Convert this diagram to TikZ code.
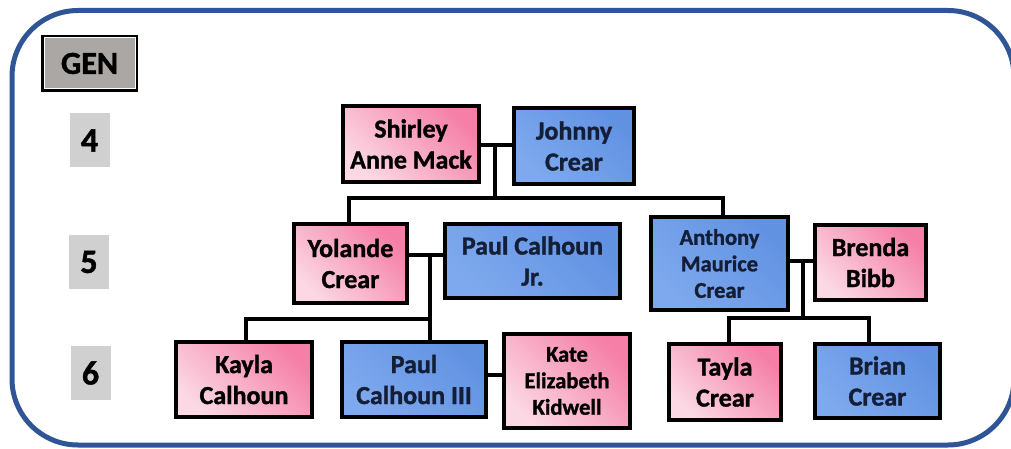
\documentclass[tikz,border=0pt]{standalone}
\usepackage{fontspec}
\setmainfont{Carlito}[BoldFeatures={FakeBold=1.3}]
\definecolor{frameblue}{HTML}{2F5597}
\definecolor{pinkL}{HTML}{FBD8E4}
\definecolor{pinkD}{HTML}{F57FA7}
\definecolor{blueL}{HTML}{7EA9EE}
\definecolor{blueD}{HTML}{6192E2}
\definecolor{navytext}{HTML}{141E36}
\definecolor{gengray}{HTML}{ABA7A5}
\definecolor{numgray}{HTML}{D0D0D0}
\tikzset{
  person/.style={draw=black, line width=4pt, inner sep=0pt, align=center,
    font=\bfseries\fontsize{26}{31}\selectfont},
  female/.style={person, left color=pinkL, right color=pinkD, shading angle=135, text=black},
  male/.style={person, left color=blueL, right color=blueD, shading angle=135, text=navytext},
  smalltext/.style={font=\bfseries\fontsize{22.5}{26.5}\selectfont},
  link/.style={draw=black, line width=4pt},
  genbox/.style={draw=black, line width=3pt, fill=gengray, inner sep=0pt,
    minimum width=94pt, minimum height=54pt, font=\bfseries\fontsize{32}{36}\selectfont},
  numbox/.style={fill=numgray, inner sep=0pt, minimum width=40pt, minimum height=54pt,
    font=\bfseries\fontsize{34}{38}\selectfont},
  frame/.style={draw=frameblue, line width=5pt, rounded corners=66pt}
}
\begin{document}
\begin{tikzpicture}[x=1pt,y=-1pt]
\useasboundingbox (0,0) rectangle (1011,449);
\clip (0,0) rectangle (1011,449);
\fill[white] (0,0) rectangle (1011,449);
\draw[frame] (12,10.5) rectangle (1014,445);

% generation column
\node[genbox] (gen) at (89.5,63.5) {GEN};
\draw[white, line width=1pt] ([shift={(3pt,-3pt)}]gen.north west) rectangle ([shift={(-3pt,3pt)}]gen.south east);
\node[numbox] (g4) at (89.5,140.5) {4};
\node[numbox] (g5) at (89,262) {5};
\node[numbox] (g6) at (90.5,373) {6};

% generation 4
\node[female, minimum width=136pt, minimum height=76pt] (shirley) at (411,144) {Shirley\\Anne Mack};
\node[male, minimum width=120pt, minimum height=76pt] (johnny) at (574,146) {Johnny\\Crear};

% generation 5
\node[female, minimum width=113pt, minimum height=79pt] (yolande) at (350.5,263.5) {Yolande\\Crear};
\node[male, minimum width=175pt, minimum height=74pt] (pauljr) at (532.5,261) {Paul Calhoun\\Jr.};
\node[male, smalltext, minimum width=137pt, minimum height=93pt] (anthony) at (719.5,263.5) {Anthony\\Maurice\\Crear};
\node[female, minimum width=111pt, minimum height=75pt] (brenda) at (870.5,262.5) {Brenda\\Bibb};

% generation 6
\node[female, minimum width=136pt, minimum height=75pt] (kayla) at (244,379.5) {Kayla\\Calhoun};
\node[male, minimum width=144pt, minimum height=75pt] (paul3) at (414,379.5) {Paul\\Calhoun III};
\node[female, smalltext, minimum width=126pt, minimum height=94pt] (kate) at (567,381) {Kate\\Elizabeth\\Kidwell};
\node[female, minimum width=112pt, minimum height=76pt] (tayla) at (725,382) {Tayla\\Crear};
\node[male, minimum width=125pt, minimum height=74pt] (brian) at (877.5,381) {Brian\\Crear};

% connector points
\coordinate (m1) at (495,145);
\coordinate (b1) at (495,198);
\coordinate (m2) at (430,255);
\coordinate (b2) at (430,319);
\coordinate (m3) at (803,261);
\coordinate (b3) at (803,318);
\coordinate (m4) at (495,375);

% connectors
\draw[link] (shirley.east |- m1) -- (johnny.west |- m1);
\draw[link] (m1) -- (b1);
\draw[link] ([xshift=-2pt]yolande.north) |- (b1) -| ([xshift=3.5pt]anthony.north);

\draw[link] (yolande.east |- m2) -- (pauljr.west |- m2);
\draw[link] (m2) -- (m2 |- paul3.north);
\draw[link] ([xshift=2pt]kayla.north) |- (b2);

\draw[link] (paul3.east |- m4) -- (kate.west |- m4);

\draw[link] (anthony.east |- m3) -- (brenda.west |- m3);
\draw[link] (m3) -- (b3);
\draw[link] ([xshift=4pt]tayla.north) |- (b3) -| ([xshift=-8.5pt]brian.north);
\end{tikzpicture}
\end{document}
